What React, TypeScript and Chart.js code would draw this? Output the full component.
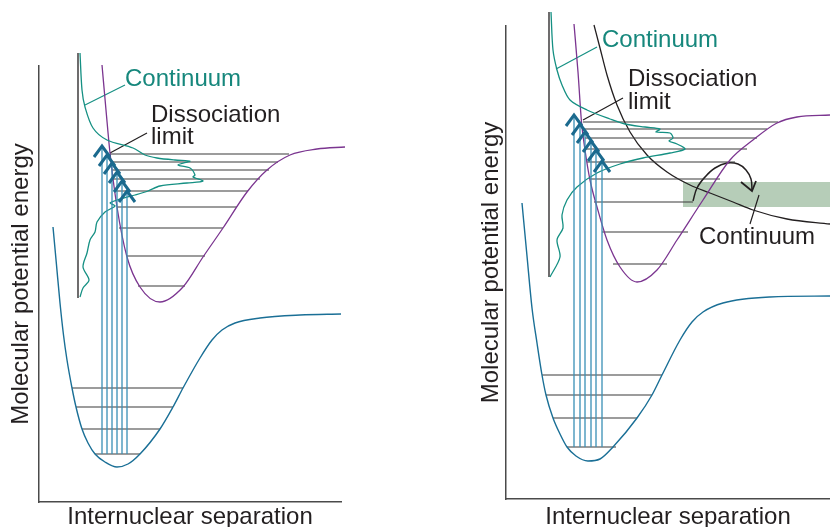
import React, { useEffect, useRef } from "react";
import { Chart, registerables } from "chart.js";
Chart.register(...registerables);

type P = [number, number];

// ================= LEFT PANEL (x: internuclear separation units, y: energy units) =================
const leftGroundCurve: P[] = [[14,275],[17.5,237],[21,199],[24.5,167],[28,142],[33,114],[37,95],[43,73],[49,59],[56,48],[66,40],[78,35],[89,38],[101,48],[121,73],[134,95],[144,114],[161,144],[173,162],[183,172],[196,179],[221,184],[261,187],[302,188]];
const leftGroundLevelE = [114, 95, 73, 48];
const leftGroundLevelX0 = [33, 37, 43, 56];
const leftGroundLevelX1 = [144, 134, 121, 101];
const leftExcitedCurve: P[] = [[63,437],[67,392],[71,349],[78,295],[88,245],[101,215],[121,200],[144,215],[164,245],[184,274],[208,310],[228,332],[251,347],[278,353],[306,355]];
const leftExcitedLevelE = [348, 340, 332, 323, 311, 295, 274, 246, 216];
const leftExcitedLevelX0 = [71, 72, 73, 74, 76, 78, 80, 88, 99];
const leftExcitedLevelX1 = [250, 239, 230, 221, 209, 198, 184, 166, 146];
const leftTransX = [63, 68, 73, 78, 83, 88];
const leftTransTop = [356, 347, 339, 330, 321, 311];
const leftTransStart = 48;
const leftSpectrum: P[] = [[41,449],[43,412],[46,395],[54,374],[68,362],[94,354],[106,347],[118,344],[136,342],[151,341],[139,337],[151,334],[156,327],[154,325],[164,321],[148,319],[121,316],[109,311],[96,307],[78,302],[71,299],[76,296],[66,290],[58,280],[56,270],[51,262],[48,249],[44,235],[50,222],[44,214],[41,205]];
const leftSpectrumAxis: P[] = [[39,449],[39,204]];
const leftLeaders: P[][] = [[[46,397],[86,417]], [[71,349],[108,369]]];
const leftLabels = [
  { text: "Continuum", x: 86, y: 423, color: "#16877c" },
  { text: "Dissociation", x: 112, y: 387, color: "#231f20" },
  { text: "limit", x: 112, y: 365, color: "#231f20" },
];

// ================= RIGHT PANEL =================
const rightGroundCurve: P[] = [[16,296],[21,243],[26,191],[31,156],[36,124],[40,104],[47,81],[54,65],[61,52],[70,43],[82,38],[94,40],[107,52],[131,81],[146,104],[156,124],[174,159],[186,177],[197,187],[217,196],[264,202],[324,203]];
const rightGroundLevelE = [124, 104, 81, 52];
const rightGroundLevelX0 = [36, 40, 47, 61];
const rightGroundLevelX1 = [156, 146, 131, 110];
const rightExcitedCurve: P[] = [[68,475],[72,427],[75.5,377],[79,349],[84,319],[91,292],[101,259],[114,232],[131,217],[151,229],[171,259],[197,299],[224,339],[247,359],[271,376],[291,382],[324,384]];
const rightExcitedLevelE = [377, 370, 361, 350, 337, 320, 297, 267, 235];
const rightExcitedLevelX0 = [77, 78, 79, 80, 81, 84, 88, 96, 107];
const rightExcitedLevelX1 = [272, 261, 251, 241, 229, 214, 187, 182, 161];
const rightRepulsiveCurve: P[] = [[88,474],[94,451],[101,424],[111,394],[124,367],[141,344],[161,327],[184,314],[204,306],[227,297],[247,289],[281,280],[324,275]];
const rightTransX = [68, 74, 79, 85, 90, 96];
const rightTransTop = [384, 375, 367, 358, 349, 338];
const rightTransStart = 52;
const rightSpectrum: P[] = [[45,487],[47,449],[51,429],[56,414],[64,399],[81,389],[104,380],[119,375],[139,372],[154,370],[150,367],[164,366],[167,361],[163,358],[171,355],[179,350],[164,346],[137,341],[114,335],[91,326],[71,312],[61,299],[56,284],[57,271],[51,259],[54,242],[44,222]];
const rightSpectrumAxis: P[] = [[43,487],[43,222]];
const rightBandX = [177, 324];
const rightBandTop = 317;
const rightBandBottom = 292;
const rightCurvedArrow: P[] = [[187,298],[191,311],[199,322],[209,331],[221,336],[232,335],[240,329],[245,320],[246,309]];
const rightCurvedArrowHead: P[] = [[235,317],[246,308],[250,318]];
const rightLeaders: P[][] = [[[50,430],[91,452]], [[77,379],[117,401]], [[244,275],[253,304]]];
const rightLabels = [
  { text: "Continuum", x: 96, y: 459, color: "#16877c" },
  { text: "Dissociation", x: 122, y: 420, color: "#231f20" },
  { text: "limit", x: 122, y: 397, color: "#231f20" },
  { text: "Continuum", x: 193, y: 262, color: "#231f20" },
];

const xTitle = "Internuclear separation";
const yTitle = "Molecular potential energy";

// ================= styles =================
const FONT = '"Liberation Sans", Arial, Helvetica, sans-serif';
const C_GROUND = "#1a6f96";
const C_TRANS = "#3a90b6";
const C_HEAD = "#1b6a8e";
const C_PURPLE = "#7b3590";
const C_TEAL = "#159083";
const C_LEVEL = "#3a3a3a";
const C_BLACK = "#231f20";
const C_AXIS = "#4a4a4a";
const C_BAND = "#b6cdb8";

const toXY = (pts: P[]) => pts.map(([x, y]) => ({ x, y }));

function curve(pts: P[], color: string, width: number, order: number, tension = 0.35) {
  return {
    data: toXY(pts), borderColor: color, borderWidth: width, pointRadius: 0,
    fill: false, tension, clip: false as any, order,
  };
}
function smooth(pts: P[], color: string, width: number, order: number) {
  return { ...curve(pts, color, width, order, 0.4), cubicInterpolationMode: "monotone" };
}
function segments(segs: P[][], color: string, width: number, order: number) {
  const data: any[] = [];
  segs.forEach((s, i) => {
    if (i) data.push({ x: s[0][0], y: null });
    s.forEach(([x, y]) => data.push({ x, y }));
  });
  return {
    data, borderColor: color, borderWidth: width, pointRadius: 0, tension: 0,
    spanGaps: false, fill: false, clip: false as any, order,
  };
}
function levels(E: number[], x0: number[], x1: number[]): P[][] {
  return E.map((e, i) => [[x0[i], e], [x1[i], e]]);
}
function transitions(xs: number[], tops: number[], start: number): P[][] {
  return xs.map((x, i) => [[x, start], [x, tops[i]]]);
}
function chevrons(xs: number[], tops: number[]): P[][] {
  return xs.map((x, i) => [[x - 8, tops[i] - 11], [x, tops[i]], [x + 8, tops[i] - 11]]);
}

const textPlugin = {
  id: "panelText",
  afterDatasetsDraw(chart: any, _args: any, opts: any) {
    const ctx = chart.ctx;
    const xs = chart.scales.x, ys = chart.scales.y;
    ctx.save();
    ctx.font = `24px ${FONT}`;
    ctx.textAlign = "left";
    ctx.textBaseline = "middle";
    (opts.labels || []).forEach((l: any) => {
      ctx.fillStyle = l.color;
      ctx.fillText(l.text, xs.getPixelForValue(l.x), ys.getPixelForValue(l.y));
    });
    ctx.restore();
  },
};

function scales(xMax: number, yMax: number, yWidth: number, xHeight: number) {
  return {
    x: {
      type: "linear", min: 0, max: xMax,
      grid: { display: false, drawTicks: false },
      border: { display: true, color: C_AXIS, width: 1.5 },
      ticks: { display: false },
      title: { display: true, text: xTitle, color: C_BLACK, padding: 0, font: { family: FONT, size: 24, lineHeight: 0.8 } },
      afterFit: (s: any) => { s.height = xHeight; },
    },
    y: {
      type: "linear", min: 0, max: yMax,
      grid: { display: false, drawTicks: false },
      border: { display: true, color: C_AXIS, width: 1.5 },
      ticks: { display: false },
      title: { display: true, text: yTitle, color: C_BLACK, padding: { top: 9, bottom: 0 }, font: { family: FONT, size: 24, lineHeight: 1 } },
      afterFit: (s: any) => { s.width = yWidth; },
    },
  };
}

function leftConfig(): any {
  return {
    type: "line",
    data: {
      datasets: [
        segments(chevrons(leftTransX, leftTransTop), C_HEAD, 3, 1),
        segments(transitions(leftTransX, leftTransTop, leftTransStart), C_TRANS, 1.3, 2),
        curve(leftSpectrum, C_TEAL, 1.3, 3, 0.3),
        smooth(leftExcitedCurve, C_PURPLE, 1.3, 4),
        segments(levels(leftExcitedLevelE, leftExcitedLevelX0, leftExcitedLevelX1), C_LEVEL, 1.2, 5),
        smooth(leftGroundCurve, C_GROUND, 1.4, 6),
        segments(levels(leftGroundLevelE, leftGroundLevelX0, leftGroundLevelX1), C_LEVEL, 1.2, 7),
        segments([leftSpectrumAxis], C_BLACK, 1.3, 8),
        segments(leftLeaders.slice(0, 1), C_TEAL, 1.2, 9),
        segments(leftLeaders.slice(1), C_BLACK, 1.2, 9),
      ],
    },
    options: {
      responsive: false, animation: false,
      layout: { padding: { left: 0, top: 66, right: 74, bottom: 0 } },
      plugins: { legend: { display: false }, tooltip: { enabled: false }, panelText: { labels: leftLabels } },
      scales: scales(302, 436, 39, 25),
    },
    plugins: [textPlugin],
  };
}

function rightConfig(): any {
  return {
    type: "line",
    data: {
      datasets: [
        segments(chevrons(rightTransX, rightTransTop), C_HEAD, 3, 1),
        segments(transitions(rightTransX, rightTransTop, rightTransStart), C_TRANS, 1.3, 2),
        curve(rightSpectrum, C_TEAL, 1.3, 3, 0.3),
        smooth(rightExcitedCurve, C_PURPLE, 1.3, 4),
        segments(levels(rightExcitedLevelE, rightExcitedLevelX0, rightExcitedLevelX1), C_LEVEL, 1.2, 5),
        smooth(rightGroundCurve, C_GROUND, 1.4, 6),
        segments(levels(rightGroundLevelE, rightGroundLevelX0, rightGroundLevelX1), C_LEVEL, 1.2, 7),
        segments([rightSpectrumAxis], C_BLACK, 1.3, 8),
        segments(rightLeaders.slice(0, 1), C_TEAL, 1.2, 9),
        segments(rightLeaders.slice(1), C_BLACK, 1.2, 9),
        smooth(rightRepulsiveCurve, C_BLACK, 1.3, 10),
        curve(rightCurvedArrow, C_BLACK, 1.5, 11, 0.4),
        segments([rightCurvedArrowHead], C_BLACK, 1.8, 11),
        {
          data: toXY([[rightBandX[0], rightBandTop], [rightBandX[1], rightBandTop]]),
          borderWidth: 0, borderColor: "rgba(0,0,0,0)", backgroundColor: C_BAND,
          pointRadius: 0, tension: 0, fill: { value: rightBandBottom }, order: 100,
        },
      ],
    },
    options: {
      responsive: false, animation: false,
      layout: { padding: { left: 55, top: 26, right: 0, bottom: 0 } },
      plugins: { legend: { display: false }, tooltip: { enabled: false }, panelText: { labels: rightLabels } },
      scales: scales(324, 473, 36, 28),
    },
    plugins: [textPlugin],
  };
}

export default function App() {
  const leftRef = useRef<HTMLCanvasElement>(null);
  const rightRef = useRef<HTMLCanvasElement>(null);
  useEffect(() => {
    const c1 = new Chart(leftRef.current!, leftConfig());
    const c2 = new Chart(rightRef.current!, rightConfig());
    return () => { c1.destroy(); c2.destroy(); };
  }, []);
  return (
    <div style={{ position: "fixed", left: 0, top: 0, width: 830, height: 527, background: "#fff", overflow: "hidden" }}>
      <canvas ref={leftRef} width={415} height={527} style={{ position: "absolute", left: 0, top: 0, width: 415, height: 527 }} />
      <canvas ref={rightRef} width={415} height={527} style={{ position: "absolute", left: 415, top: 0, width: 415, height: 527 }} />
    </div>
  );
}
